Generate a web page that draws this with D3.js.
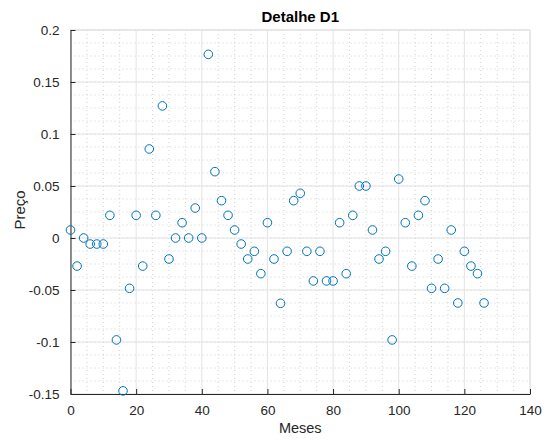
<!DOCTYPE html>
<html>
<head>
<meta charset="utf-8">
<script src="https://cdn.jsdelivr.net/npm/d3@7"></script>
<style>
  body { margin: 0; background: #fff; }
  svg { display: block; font-family: "Liberation Sans", Arial, sans-serif; }
</style>
</head>
<body>
<script>
// Dados
const meses = d3.range(0, 128, 2);
const precos = [
  0.0077, -0.0270, 0.0000, -0.0058, -0.0058, -0.0058, 0.0218, -0.0980,
  -0.1470, -0.0484, 0.0218, -0.0270, 0.0856, 0.0218, 0.1270, -0.0202,
  0.0000, 0.0147, 0.0000, 0.0288, 0.0000, 0.1766, 0.0638, 0.0359,
  0.0218, 0.0077, -0.0058, -0.0202, -0.0128, -0.0343, 0.0147, -0.0202,
  -0.0628, -0.0128, 0.0359, 0.0430, -0.0128, -0.0413, -0.0128, -0.0413,
  -0.0413, 0.0147, -0.0343, 0.0218, 0.0500, 0.0500, 0.0077, -0.0202,
  -0.0128, -0.0980, 0.0567, 0.0147, -0.0270, 0.0218, 0.0359, -0.0484,
  -0.0202, -0.0484, 0.0077, -0.0625, -0.0128, -0.0270, -0.0343, -0.0625
];
const xTicks = [0, 20, 40, 60, 80, 100, 120, 140];
const yTicks = [-0.15, -0.1, -0.05, 0, 0.05, 0.1, 0.15, 0.2];
const xMinor = d3.range(0, 141, 5);
const yMinor = d3.range(-0.15, 0.2001, 0.0125);

const width = 547, height = 439;
const margin = {top: 30, right: 17, bottom: 45, left: 70.5};
const innerW = width - margin.left - margin.right;
const innerH = height - margin.top - margin.bottom;

const x = d3.scaleLinear().domain([0, 140]).range([0, innerW]);
const y = d3.scaleLinear().domain([-0.15, 0.2]).range([innerH, 0]);

const svg = d3.select("body").append("svg")
  .attr("width", width).attr("height", height);

const g = svg.append("g").attr("transform", `translate(${margin.left},${margin.top})`);

// grade menor (pontilhada)
g.append("g").selectAll("line").data(xMinor.filter(v => v % 20 !== 0)).join("line")
  .attr("x1", d => x(d)).attr("x2", d => x(d)).attr("y1", 0).attr("y2", innerH)
  .attr("stroke", "#bdbdbd").attr("stroke-width", 0.7).attr("stroke-dasharray", "1,3");
g.append("g").selectAll("line").data(yMinor).join("line")
  .attr("x1", 0).attr("x2", innerW).attr("y1", d => y(d)).attr("y2", d => y(d))
  .attr("stroke", "#bdbdbd").attr("stroke-width", 0.7).attr("stroke-dasharray", "1,3");

// grade maior
g.append("g").selectAll("line").data(xTicks).join("line")
  .attr("x1", d => x(d)).attr("x2", d => x(d)).attr("y1", 0).attr("y2", innerH)
  .attr("stroke", "#e3e3e3").attr("stroke-width", 1);
g.append("g").selectAll("line").data(yTicks).join("line")
  .attr("x1", 0).attr("x2", innerW).attr("y1", d => y(d)).attr("y2", d => y(d))
  .attr("stroke", "#e3e3e3").attr("stroke-width", 1);

// moldura superior/direita
g.append("path")
  .attr("d", `M0,0H${innerW}V${innerH}`)
  .attr("fill", "none").attr("stroke", "#e0e0e0");

// eixos
const fmtY = d => d === 0 ? "0" : String(+d.toFixed(2));
const xAxis = g.append("g").attr("transform", `translate(0,${innerH})`)
  .call(d3.axisBottom(x).tickValues(xTicks).tickSizeInner(-5).tickSizeOuter(0).tickPadding(11));
const yAxis = g.append("g")
  .call(d3.axisLeft(y).tickValues(yTicks).tickFormat(fmtY).tickSizeInner(-5).tickSizeOuter(0).tickPadding(11));
[xAxis, yAxis].forEach(a => {
  a.select(".domain").attr("stroke", "#262626");
  a.selectAll(".tick line").attr("stroke", "#262626");
  a.selectAll(".tick text").attr("fill", "#262626").style("font-size", "13.5px");
});

// pontos
g.append("g").selectAll("circle").data(meses).join("circle")
  .attr("cx", (d, i) => x(d))
  .attr("cy", (d, i) => y(precos[i]))
  .attr("r", 4.3)
  .attr("fill", "none")
  .attr("stroke", "#0072BD")
  .attr("stroke-width", 1);

// títulos
svg.append("text")
  .attr("x", margin.left + innerW / 2).attr("y", 22)
  .attr("text-anchor", "middle")
  .style("font-size", "15px").style("font-weight", "bold").attr("fill", "#000")
  .text("Detalhe D1");
svg.append("text")
  .attr("x", margin.left + innerW / 2).attr("y", 433)
  .attr("text-anchor", "middle")
  .style("font-size", "14.5px").attr("fill", "#262626")
  .text("Meses");
svg.append("text")
  .attr("transform", `translate(25,${margin.top + y(0.027)}) rotate(-90)`)
  .attr("text-anchor", "middle")
  .style("font-size", "15px").attr("fill", "#262626")
  .text("Preço");
</script>
</body>
</html>
